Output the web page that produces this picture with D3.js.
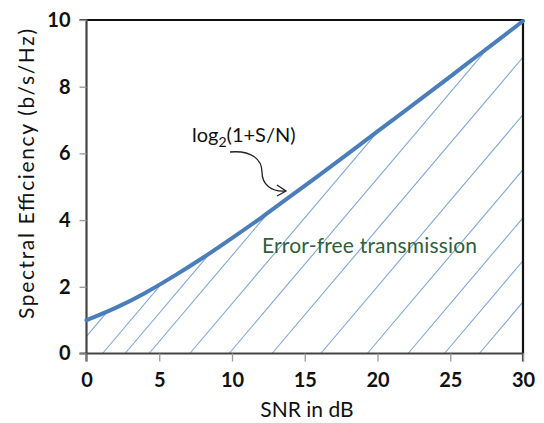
<!DOCTYPE html>
<html>
<head>
<meta charset="utf-8">
<script src="https://cdn.jsdelivr.net/npm/d3@7"></script>
<style>
body { margin: 0; background: white; }
svg { display: block; font-family: Lato, "Open Sans", sans-serif; }
</style>
</head>
<body>
<svg id="chart" width="544" height="423"></svg>
<script>
// values
var snrDb = [0, 2, 4, 6, 8, 10, 12, 14, 16, 18, 20, 22, 24, 26, 28, 30];
var efficiency = [1.00, 1.37, 1.81, 2.32, 2.87, 3.46, 4.07, 4.71, 5.35, 6.00, 6.66, 7.31, 7.97, 8.64, 9.30, 9.97];
var xTicks = [0, 5, 10, 15, 20, 25, 30];
var yTicks = [0, 2, 4, 6, 8, 10];
// where each hatch stroke meets the x axis (dB)
var hatchStarts = [-1.0, 1.1, 2.65, 4.3, 7.1, 9.8, 12.75, 16.1, 19.3, 22.1, 24.6, 27.0];

var svg = d3.select("#chart");
var plotL = 86.5, plotR = 523, plotT = 20, plotB = 353.5;

var x = d3.scaleLinear().domain([0, 30]).range([plotL, plotR]);
var y = d3.scaleLinear().domain([0, 10]).range([plotB, plotT]);

var pts = snrDb.map(function (d, i) { return [d, efficiency[i]]; });

// region under the curve, used to clip the hatching
var area = d3.area()
	.x(function (d) { return x(d[0]); })
	.y0(y(0))
	.y1(function (d) { return y(d[1]); })
	.curve(d3.curveNatural);

svg.append("clipPath").attr("id", "under")
	.append("path").attr("d", area(pts));

var hatchSlope = 0.515; // units per dB
var hatch = svg.append("g").attr("clip-path", "url(#under)");
hatchStarts.forEach(function (h) {
	hatch.append("line")
		.attr("x1", x(h)).attr("y1", y(0))
		.attr("x2", x(h + 25)).attr("y2", y(25 * hatchSlope))
		.attr("stroke", "#7ea6dc")
		.attr("stroke-width", 1.1);
});

// plot frame: top and right black
svg.append("path")
	.attr("d", "M" + plotL + "," + plotT + "H" + plotR + "V" + plotB)
	.attr("fill", "none").attr("stroke", "#111").attr("stroke-width", 2.2);

// axes
var xAxis = svg.append("g").attr("transform", "translate(0," + plotB + ")")
	.call(d3.axisBottom(x).tickValues(xTicks).tickSize(8).tickPadding(11));
var yAxis = svg.append("g").attr("transform", "translate(" + plotL + ",0)")
	.call(d3.axisLeft(y).tickValues(yTicks).tickSize(7).tickPadding(9));

[xAxis, yAxis].forEach(function (ax) {
	ax.select(".domain").attr("stroke", "#444").attr("stroke-width", 2.2);
	ax.selectAll(".tick line").attr("stroke", "#999").attr("stroke-width", 1.3);
	ax.selectAll(".tick text")
		.attr("fill", "#111")
		.style("font-family", "Lato, sans-serif")
		.style("font-size", "20px")
		.style("font-weight", "bold");
});
xAxis.select(".domain").attr("d", "M" + plotL + ",8V0H" + plotR + "V8");
yAxis.select(".domain").attr("d", "M-7," + plotT + "H0V" + plotB + "H-7");

// capacity curve
var line = d3.line()
	.x(function (d) { return x(d[0]); })
	.y(function (d) { return y(d[1]); })
	.curve(d3.curveNatural);

svg.append("path")
	.attr("d", line(pts))
	.attr("fill", "none")
	.attr("stroke", "#4a7ebb")
	.attr("stroke-width", 4)
	.attr("stroke-linecap", "round");

// axis titles
svg.append("text")
	.attr("x", 307).attr("y", 417)
	.attr("text-anchor", "middle")
	.style("font-size", "21px")
	.attr("fill", "#111")
	.text("SNR in dB");

svg.append("text")
	.attr("transform", "translate(34,174) rotate(-90)")
	.attr("text-anchor", "middle")
	.attr("textLength", 290)
	.attr("lengthAdjust", "spacing")
	.style("font-size", "21px")
	.attr("fill", "#111")
	.text("Spectral Efficiency (b/s/Hz)");

// annotation
var lbl = svg.append("text")
	.attr("x", 192).attr("y", 142)
	.style("font-size", "20px")
	.attr("fill", "#111");
lbl.append("tspan").text("log");
lbl.append("tspan").attr("dy", 5).style("font-size", "14px").text("2");
lbl.append("tspan").attr("dy", -5).text("(1+S/N)");

svg.append("path")
	.attr("d", "M230,152 C252,150 262,160 262,172 C262,185 272,192 285,191")
	.attr("fill", "none").attr("stroke", "#222").attr("stroke-width", 1.3);
svg.append("path")
	.attr("d", "M277,185 L286,191 L277,196")
	.attr("fill", "none").attr("stroke", "#222").attr("stroke-width", 1.3);

svg.append("text")
	.attr("x", 262).attr("y", 253)
	.attr("textLength", 215)
	.attr("lengthAdjust", "spacing")
	.style("font-size", "21px")
	.attr("fill", "#2f5f3c")
	.text("Error-free transmission");
</script>
</body>
</html>
